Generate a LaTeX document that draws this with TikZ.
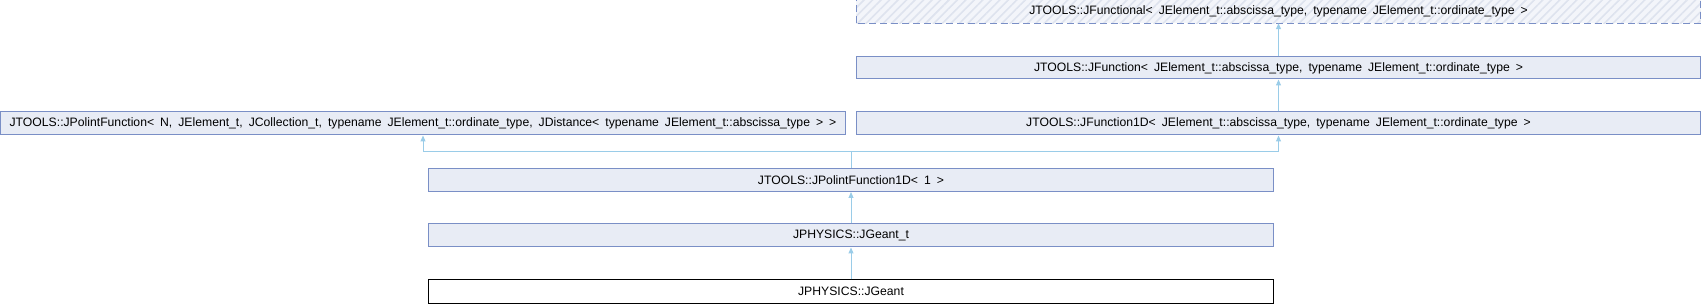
\documentclass[tikz,border=0pt]{standalone}
\usepackage{fontspec}
\setmainfont{Liberation Sans}
\usetikzlibrary{arrows.meta,patterns.meta}
\definecolor{boxfill}{HTML}{E8ECF5}
\definecolor{boxline}{HTML}{7A8FC6}
\definecolor{edgecol}{HTML}{9ACCE8}
\definecolor{hatchbg}{HTML}{F3F5FA}
\definecolor{hatchfg}{HTML}{DEE3EE}
\newcommand{\clsfont}{\fontsize{12.2}{14}\selectfont\spaceskip=6pt plus 0pt minus 0pt\relax}
\tikzset{
  cls/.style={draw=boxline, fill=boxfill, line width=1pt, inner sep=0pt,
    font=\clsfont, text=black, anchor=center},
  leaf/.style={draw=black, fill=white, line width=1pt, inner sep=0pt,
    font=\clsfont, text=black, anchor=center},
  edge/.style={draw=edgecol, line width=1pt, -{Triangle[width=5pt,length=6pt]}},
  plainedge/.style={draw=edgecol, line width=1pt},
}
\begin{document}
\begin{tikzpicture}[x=1pt,y=-1pt]
\useasboundingbox (0,0) rectangle (1702,304);
% hatched (undocumented) box
\node[inner sep=0pt, minimum width=844pt, minimum height=23pt] (fnl) at (1278.5,11.5) {};
\fill[hatchbg] (fnl.south west) rectangle (fnl.north east);
\fill[pattern={Lines[angle=45,distance=6pt,line width=1.6pt]}, pattern color=hatchfg] (fnl.south west) rectangle (fnl.north east);
\draw[boxline, line width=1pt, dash pattern=on 7pt off 4pt] (fnl.south west) rectangle (fnl.north east);
\node[font=\clsfont, text=black] (fnltext) at (fnl.center) {JTOOLS::JFunctional< JElement\_t::abscissa\_type, typename JElement\_t::ordinate\_type >};

\node[cls, minimum width=844pt, minimum height=22pt] (fn) at (1278.5,68) {JTOOLS::JFunction< JElement\_t::abscissa\_type, typename JElement\_t::ordinate\_type >};
\node[cls, minimum width=844pt, minimum height=23pt] (f1d) at (1278.5,123.5) {JTOOLS::JFunction1D< JElement\_t::abscissa\_type, typename JElement\_t::ordinate\_type >};
\node[cls, minimum width=845pt, minimum height=23pt] (pf) at (423,123.5) {JTOOLS::JPolintFunction< N, JElement\_t, JCollection\_t, typename JElement\_t::ordinate\_type, JDistance< typename JElement\_t::abscissa\_type > >};
\node[cls, minimum width=845pt, minimum height=23pt] (p1d) at (851,180) {JTOOLS::JPolintFunction1D< 1 >};
\node[cls, minimum width=845pt, minimum height=23pt] (gt) at (851,235.5) {JPHYSICS::JGeant\_t};
\node[leaf, minimum width=845pt, minimum height=23pt] (g) at (851,291.5) {JPHYSICS::JGeant};

\coordinate (j) at (851,152);
\draw[edge] (fn.north) -- (fnl.south);
\draw[edge] (f1d.north) -- (fn.south);
\draw[plainedge] (p1d.north) -- (j);
\draw[edge] (j) -| (pf.south);
\draw[edge] (j) -| (f1d.south);
\draw[edge] (gt.north) -- (p1d.south);
\draw[edge] (g.north) -- (gt.south);
\end{tikzpicture}
\end{document}
